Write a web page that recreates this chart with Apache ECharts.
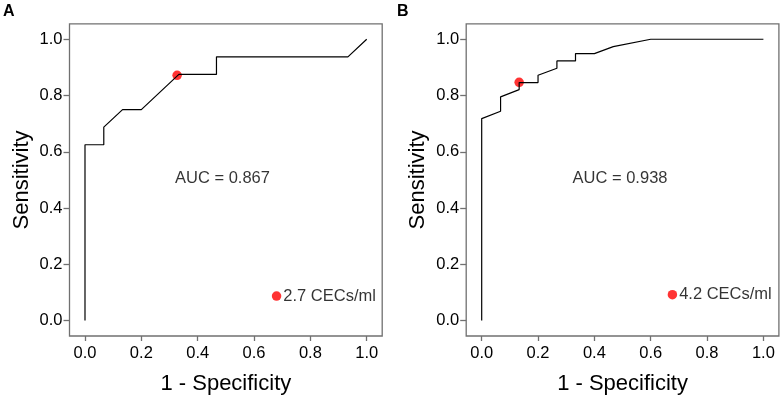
<!DOCTYPE html>
<html>
<head>
<meta charset="utf-8">
<script src="https://cdn.jsdelivr.net/npm/echarts@6/dist/echarts.min.js"></script>
<style>
html,body{margin:0;padding:0;background:#fff;}
#chart{width:782px;height:400px;}
</style>
</head>
<body>
<div id="chart"></div>
<script>
// ROC curve points [1 - Specificity, Sensitivity]
var rocA = [[0,0],[0,0.625],[0.0667,0.625],[0.0667,0.6875],[0.1333,0.75],[0.2,0.75],[0.3333,0.875],[0.4667,0.875],[0.4667,0.9375],[0.9333,0.9375],[1,1]];
var rocB = [[0,0],[0,0.718],[0.067,0.744],[0.067,0.795],[0.133,0.821],[0.133,0.846],[0.2,0.846],[0.2,0.872],[0.267,0.897],[0.267,0.923],[0.333,0.923],[0.333,0.949],[0.4,0.949],[0.467,0.974],[0.6,1.0],[1,1]];
var cutA = [0.327, 0.872];
var cutB = [0.133, 0.847];
var legendPtA = [0.68, 0.087];
var legendPtB = [0.677, 0.092];
var legendTextA = '2.7 CECs/ml';
var legendTextB = '4.2 CECs/ml';
var aucPosA = [0.488, 0.506];
var aucPosB = [0.491, 0.504];
var aucTextA = 'AUC = 0.867';
var aucTextB = 'AUC = 0.938';
var tickValues = [0, 0.2, 0.4, 0.6, 0.8, 1.0];
var panelLabels = ['A', 'B'];
var xTitle = '1 - Specificity';
var yTitle = 'Sensitivity';

var FONT = 'Liberation Sans, Arial, sans-serif';
var frameColor = '#707070';
var textColor = '#000';

function makeX(idx) {
  return {
    type: 'value', gridIndex: idx, min: -0.055, max: 1.055,
    name: xTitle, nameLocation: 'middle', nameGap: 37,
    nameTextStyle: {fontFamily: FONT, fontSize: 22, color: textColor},
    axisLine: {show: false, onZero: false},
    splitLine: {show: false},
    axisTick: {show: true, customValues: tickValues, length: 5, inside: false, lineStyle: {color: frameColor, width: 1.3}},
    axisLabel: {show: true, customValues: tickValues, margin: 9, fontFamily: FONT, fontSize: 16.5, color: textColor,
      formatter: function (v) { return Number(v).toFixed(1); }}
  };
}
function makeY(idx) {
  return {
    type: 'value', gridIndex: idx, min: -0.055, max: 1.055,
    name: yTitle, nameLocation: 'middle', nameGap: 37,
    nameTextStyle: {fontFamily: FONT, fontSize: 22, color: textColor},
    axisLine: {show: false, onZero: false},
    splitLine: {show: false},
    axisTick: {show: true, customValues: tickValues, length: 6, inside: false, lineStyle: {color: frameColor, width: 1.3}},
    axisLabel: {show: true, customValues: tickValues, margin: 7, fontFamily: FONT, fontSize: 16.5, color: textColor,
      formatter: function (v) { return Number(v).toFixed(1); }}
  };
}
function series(idx, roc, cut, legPt, legText, aucPos, aucText) {
  return [
    {type: 'line', xAxisIndex: idx, yAxisIndex: idx, data: roc, showSymbol: false, silent: true,
      lineStyle: {color: '#000', width: 1.2}, animation: false},
    {type: 'scatter', xAxisIndex: idx, yAxisIndex: idx, data: [cut], symbolSize: 9.5,
      itemStyle: {color: '#ff0000'}, animation: false},
    {type: 'scatter', xAxisIndex: idx, yAxisIndex: idx, data: [legPt], symbolSize: 9.5,
      itemStyle: {color: '#ff0000'}, animation: false,
      label: {show: true, position: 'right', distance: 2, formatter: legText, fontFamily: FONT, fontSize: 16.5, color: textColor}},
    {type: 'scatter', xAxisIndex: idx, yAxisIndex: idx, data: [aucPos], symbolSize: 1,
      itemStyle: {color: 'rgba(0,0,0,0)'}, animation: false,
      label: {show: true, position: 'inside', formatter: aucText, fontFamily: FONT, fontSize: 16.5, color: textColor}}
  ];
}

var chart = echarts.init(document.getElementById('chart'), null, {renderer: 'canvas'});
chart.setOption({
  backgroundColor: '#fff',
  animation: false,
  grid: [
    {left: 69.5, top: 23.8, width: 312.7, height: 312.7, show: true, borderColor: frameColor, borderWidth: 1.3, backgroundColor: 'transparent'},
    {left: 466.2, top: 23.8, width: 312.7, height: 312.7, show: true, borderColor: frameColor, borderWidth: 1.3, backgroundColor: 'transparent'}
  ],
  xAxis: [makeX(0), makeX(1)],
  yAxis: [makeY(0), makeY(1)],
  graphic: [
    {type: 'text', left: 3, top: 4, style: {text: panelLabels[0], font: 'bold 16px ' + FONT, fill: textColor}},
    {type: 'text', left: 397, top: 4, style: {text: panelLabels[1], font: 'bold 16px ' + FONT, fill: textColor}}
  ],
  series: [].concat(
    series(0, rocA, cutA, legendPtA, legendTextA, aucPosA, aucTextA),
    series(1, rocB, cutB, legendPtB, legendTextB, aucPosB, aucTextB)
  )
});
</script>
</body>
</html>
